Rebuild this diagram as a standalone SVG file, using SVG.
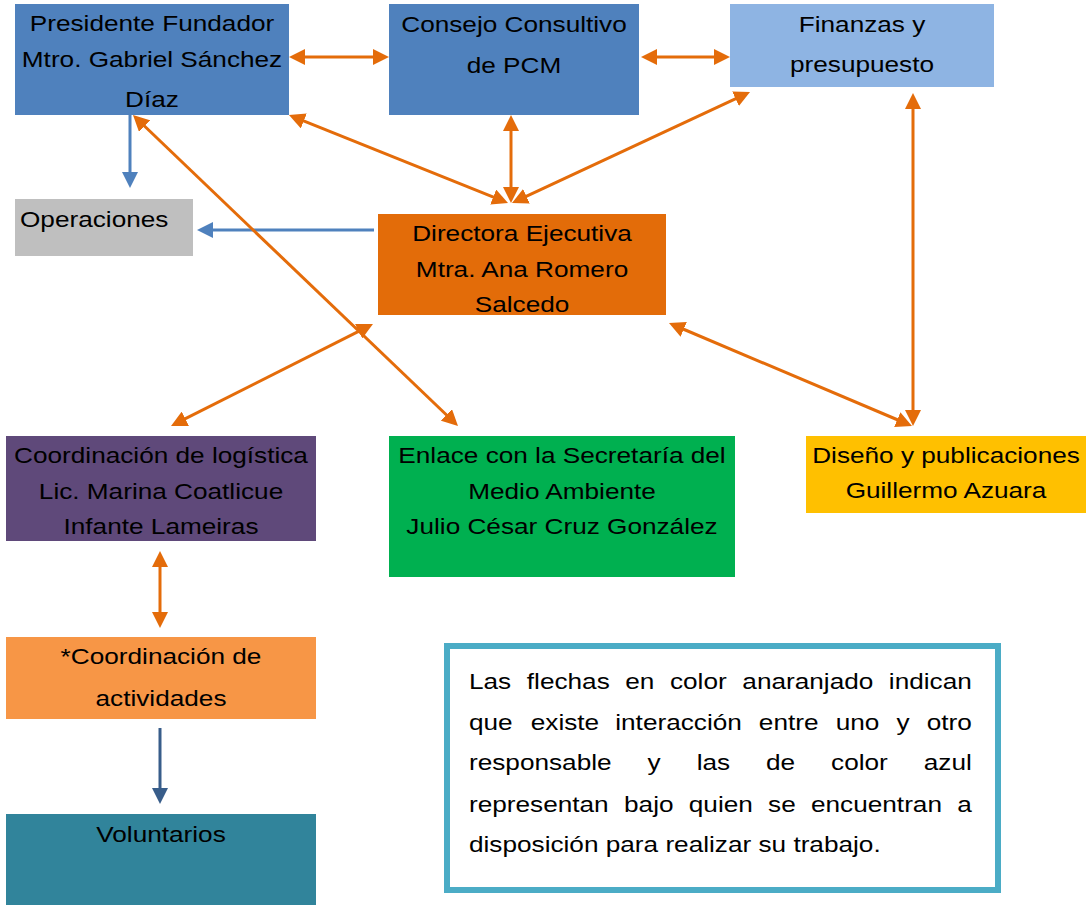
<svg xmlns="http://www.w3.org/2000/svg" width="1086" height="905" viewBox="0 0 1086 905">
<style>
text{font-family:"Liberation Sans",Arial,sans-serif;font-size:22px;fill:#000}
.c{text-anchor:middle}
.o{stroke:#E46C0A;stroke-width:3;fill:none}
.b{stroke:#4F81BD;stroke-width:3;fill:none}
.db{stroke:#385D8A;stroke-width:3;fill:none}
</style>
<defs>
<marker id="ao" markerUnits="userSpaceOnUse" markerWidth="16" markerHeight="16" refX="11" refY="8" orient="auto-start-reverse"><path d="M0,0 L16,8 L0,16 z" fill="#E46C0A"/></marker>
<marker id="ab" markerUnits="userSpaceOnUse" markerWidth="16" markerHeight="16" refX="11" refY="8" orient="auto-start-reverse"><path d="M0,0 L16,8 L0,16 z" fill="#4F81BD"/></marker>
<marker id="adb" markerUnits="userSpaceOnUse" markerWidth="16" markerHeight="16" refX="11" refY="8" orient="auto-start-reverse"><path d="M0,0 L16,8 L0,16 z" fill="#385D8A"/></marker>
</defs>
<rect width="1086" height="905" fill="#fff"/>

<g id="presidente">
<rect x="15" y="4" width="274" height="111" fill="#4F81BD"/>
<text class="c" transform="translate(152,0) scale(1.19,1)"><tspan x="0" y="31">Presidente Fundador</tspan><tspan x="0" y="67">Mtro. Gabriel Sánchez</tspan><tspan x="0" y="107">Díaz</tspan></text>
</g>
<g id="consejo">
<rect x="389" y="4" width="250" height="111" fill="#4F81BD"/>
<text class="c" transform="translate(514,0) scale(1.19,1)"><tspan x="0" y="32">Consejo Consultivo</tspan><tspan x="0" y="73">de PCM</tspan></text>
</g>
<g id="finanzas">
<rect x="730" y="4" width="264" height="83" fill="#8EB4E3"/>
<text class="c" transform="translate(862,0) scale(1.19,1)"><tspan x="0" y="32">Finanzas y</tspan><tspan x="0" y="72">presupuesto</tspan></text>
</g>
<g id="operaciones">
<rect x="15" y="199" width="178" height="57" fill="#BFBFBF"/>
<text transform="translate(20,227) scale(1.19,1)">Operaciones</text>
</g>
<g id="directora">
<rect x="378" y="214" width="288" height="101" fill="#E36C09"/>
<text class="c" transform="translate(522,0) scale(1.19,1)"><tspan x="0" y="241">Directora Ejecutiva</tspan><tspan x="0" y="277">Mtra. Ana Romero</tspan><tspan x="0" y="312">Salcedo</tspan></text>
</g>
<g id="logistica">
<rect x="6" y="436" width="310" height="105" fill="#5F497A"/>
<text class="c" transform="translate(161,0) scale(1.19,1)"><tspan x="0" y="463">Coordinación de logística</tspan><tspan x="0" y="499">Lic. Marina Coatlicue</tspan><tspan x="0" y="534">Infante Lameiras</tspan></text>
</g>
<g id="enlace">
<rect x="389" y="436" width="346" height="141" fill="#00B050"/>
<text class="c" transform="translate(562,0) scale(1.19,1)"><tspan x="0" y="463">Enlace con la Secretaría del</tspan><tspan x="0" y="499">Medio Ambiente</tspan><tspan x="0" y="534">Julio César Cruz González</tspan></text>
</g>
<g id="diseno">
<rect x="806" y="436" width="280" height="77" fill="#FFC000"/>
<text class="c" transform="translate(946,0) scale(1.19,1)"><tspan x="0" y="463">Diseño y publicaciones</tspan><tspan x="0" y="498">Guillermo Azuara</tspan></text>
</g>
<g id="actividades">
<rect x="6" y="637" width="310" height="82" fill="#F79646"/>
<text class="c" transform="translate(161,0) scale(1.19,1)"><tspan x="0" y="664">*Coordinación de</tspan><tspan x="0" y="706">actividades</tspan></text>
</g>
<g id="voluntarios">
<rect x="6" y="814" width="310" height="91" fill="#31849B"/>
<text class="c" transform="translate(161,842) scale(1.19,1)">Voluntarios</text>
</g>
<g id="leyenda">
<rect x="447" y="646" width="551" height="244" fill="#fff" stroke="#4BACC6" stroke-width="6"/>
<text transform="translate(469,689) scale(1.19,1)"><tspan x="0">Las</tspan><tspan x="48.6">flechas</tspan><tspan x="131.3">en</tspan><tspan x="168.9">color</tspan><tspan x="229.7">anaranjado</tspan><tspan x="352.8">indican</tspan></text>
<text transform="translate(469,730) scale(1.19,1)"><tspan x="0">que</tspan><tspan x="51.9">existe</tspan><tspan x="122.9">interacción</tspan><tspan x="243.6">entre</tspan><tspan x="308.2">uno</tspan><tspan x="359.2">y</tspan><tspan x="384.6">otro</tspan></text>
<text transform="translate(469,770) scale(1.19,1)"><tspan x="0">responsable</tspan><tspan x="150.1">y</tspan><tspan x="191.3">las</tspan><tspan x="249.6">de</tspan><tspan x="304.3">color</tspan><tspan x="382.2">azul</tspan></text>
<text transform="translate(469,812) scale(1.19,1)"><tspan x="0">representan</tspan><tspan x="130.3">bajo</tspan><tspan x="184.7">quien</tspan><tspan x="251.3">se</tspan><tspan x="287.4">encuentran</tspan><tspan x="410.3">a</tspan></text>
<text transform="translate(469,852) scale(1.19,1)">disposición para realizar su trabajo.</text>
</g>

<g id="connectors">
<line class="b" x1="130" y1="115" x2="130" y2="183" marker-end="url(#ab)"/>
<line class="b" x1="374" y1="230" x2="202" y2="230" marker-end="url(#ab)"/>
<line class="db" x1="160" y1="728" x2="160" y2="799" marker-end="url(#adb)"/>
<line class="o" x1="294" y1="57" x2="384" y2="57" marker-start="url(#ao)" marker-end="url(#ao)"/>
<line class="o" x1="646" y1="57" x2="725" y2="57" marker-start="url(#ao)" marker-end="url(#ao)"/>
<line class="o" x1="293.6" y1="116.9" x2="503.4" y2="201.1" marker-start="url(#ao)" marker-end="url(#ao)"/>
<line class="o" x1="511" y1="120" x2="511" y2="198" marker-start="url(#ao)" marker-end="url(#ao)"/>
<line class="o" x1="745.5" y1="94.1" x2="516.5" y2="200.9" marker-start="url(#ao)" marker-end="url(#ao)"/>
<line class="o" x1="913" y1="98" x2="913" y2="421" marker-start="url(#ao)" marker-end="url(#ao)"/>
<line class="o" x1="673.6" y1="325" x2="907.4" y2="424" marker-start="url(#ao)" marker-end="url(#ao)"/>
<line class="o" x1="368.5" y1="326.3" x2="175.5" y2="423.7" marker-start="url(#ao)" marker-end="url(#ao)"/>
<line class="o" x1="136.6" y1="118.5" x2="454.4" y2="422.5" marker-start="url(#ao)" marker-end="url(#ao)"/>
<line class="o" x1="160" y1="556" x2="160" y2="623" marker-start="url(#ao)" marker-end="url(#ao)"/>
</g>
</svg>
